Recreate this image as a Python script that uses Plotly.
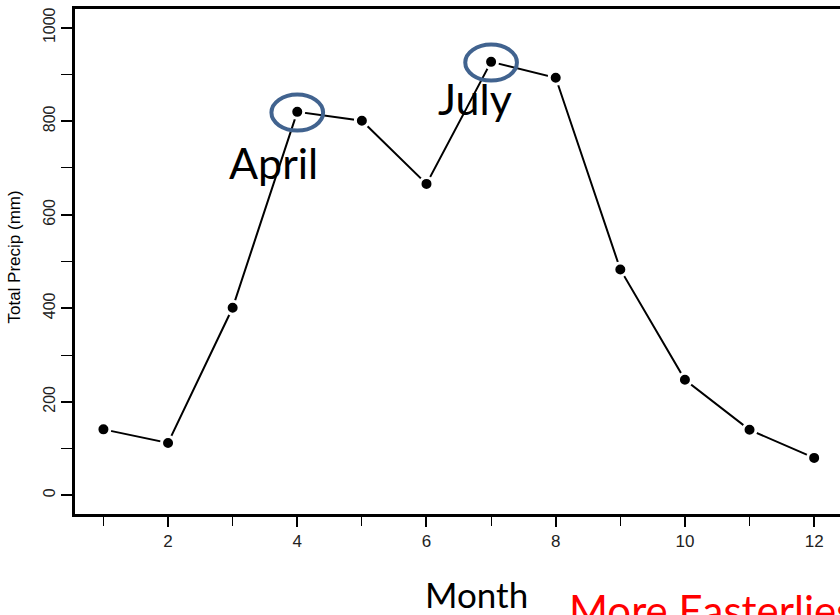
import plotly.graph_objects as go

months = [1, 2, 3, 4, 5, 6, 7, 8, 9, 10, 11, 12]
precip = [141, 112, 401, 820, 801, 666, 927, 893, 483, 247, 140, 80]
xtick_vals = [2, 4, 6, 8, 10, 12]
ytick_vals = [0, 200, 400, 600, 800, 1000]
highlight = {"April": 4, "July": 7}

fig = go.Figure()
fig.add_trace(go.Scatter(
    x=months, y=precip, mode="lines+markers",
    line=dict(color="black", width=2),
    marker=dict(color="black", size=13, line=dict(color="white", width=3)),
    showlegend=False, cliponaxis=False,
))

blue = "#41638f"
for name, m in highlight.items():
    v = precip[m - 1]
    fig.add_shape(type="circle", xref="x", yref="y",
                  x0=m - 0.40, x1=m + 0.40, y0=v - 40, y1=v + 37,
                  line=dict(color=blue, width=4))

fig.add_annotation(text="April", x=2.92, y=712, xref="x", yref="y",
                   xanchor="left", yanchor="middle", showarrow=False,
                   font=dict(family="Lato", size=43, color="black"))
fig.add_annotation(text="July", x=6.15, y=848, xref="x", yref="y",
                   xanchor="left", yanchor="middle", showarrow=False,
                   font=dict(family="Lato", size=43, color="black"))

# axis title and texts below
fig.add_annotation(text="Total Precip (mm)", textangle=-90,
                   x=-0.079, y=0.509, xref="paper", yref="paper",
                   xanchor="center", yanchor="middle", showarrow=False,
                   font=dict(family="Liberation Sans", size=17, color="black"))
fig.add_annotation(text="Month", x=0.525, y=-0.113, xref="paper", yref="paper",
                   xanchor="center", yanchor="top", showarrow=False,
                   font=dict(family="Lato", size=35, color="black"))
fig.add_annotation(text="More Easterlies", x=0.6425, y=-0.136, xref="paper", yref="paper",
                   xanchor="left", yanchor="top", showarrow=False,
                   font=dict(family="Lato", size=42, color="red"))

fig.update_layout(
    width=840, height=615,
    margin=dict(l=75, r=0, t=9, b=101, autoexpand=False),
    paper_bgcolor="white", plot_bgcolor="white",
    font=dict(family="Liberation Sans", color="#222"),
)
fig.update_xaxes(
    range=[0.56, 12.40], tickvals=xtick_vals, ticktext=[str(v) for v in xtick_vals],
    showgrid=False, zeroline=False, automargin=False, ticklabeloverflow="allow",
    showline=True, linecolor="black", linewidth=2.5, mirror=True,
    ticks="outside", ticklen=10, tickwidth=2, tickcolor="black",
    minor=dict(tickvals=[1, 3, 5, 7, 9, 11], ticks="outside", ticklen=9, tickwidth=1, tickcolor="black"),
    tickfont=dict(size=17, family="Liberation Sans", color="#222"),
)
fig.update_yaxes(
    range=[-40, 1040], tickvals=ytick_vals, ticktext=[str(v) for v in ytick_vals],
    showgrid=False, zeroline=False, automargin=False, ticklabeloverflow="allow",
    showline=True, linecolor="black", linewidth=2.5, mirror=False,
    ticks="outside", ticklen=11, tickwidth=2, tickcolor="black", tickangle=-90,
    minor=dict(tickvals=[100, 300, 500, 700, 900], ticks="outside", ticklen=11, tickwidth=1, tickcolor="black"),
    tickfont=dict(size=16, family="Liberation Sans", color="#222"),
)

fig.write_html("out.html", config={"displayModeBar": False},
               post_script="document.body.style.margin='0px';")
